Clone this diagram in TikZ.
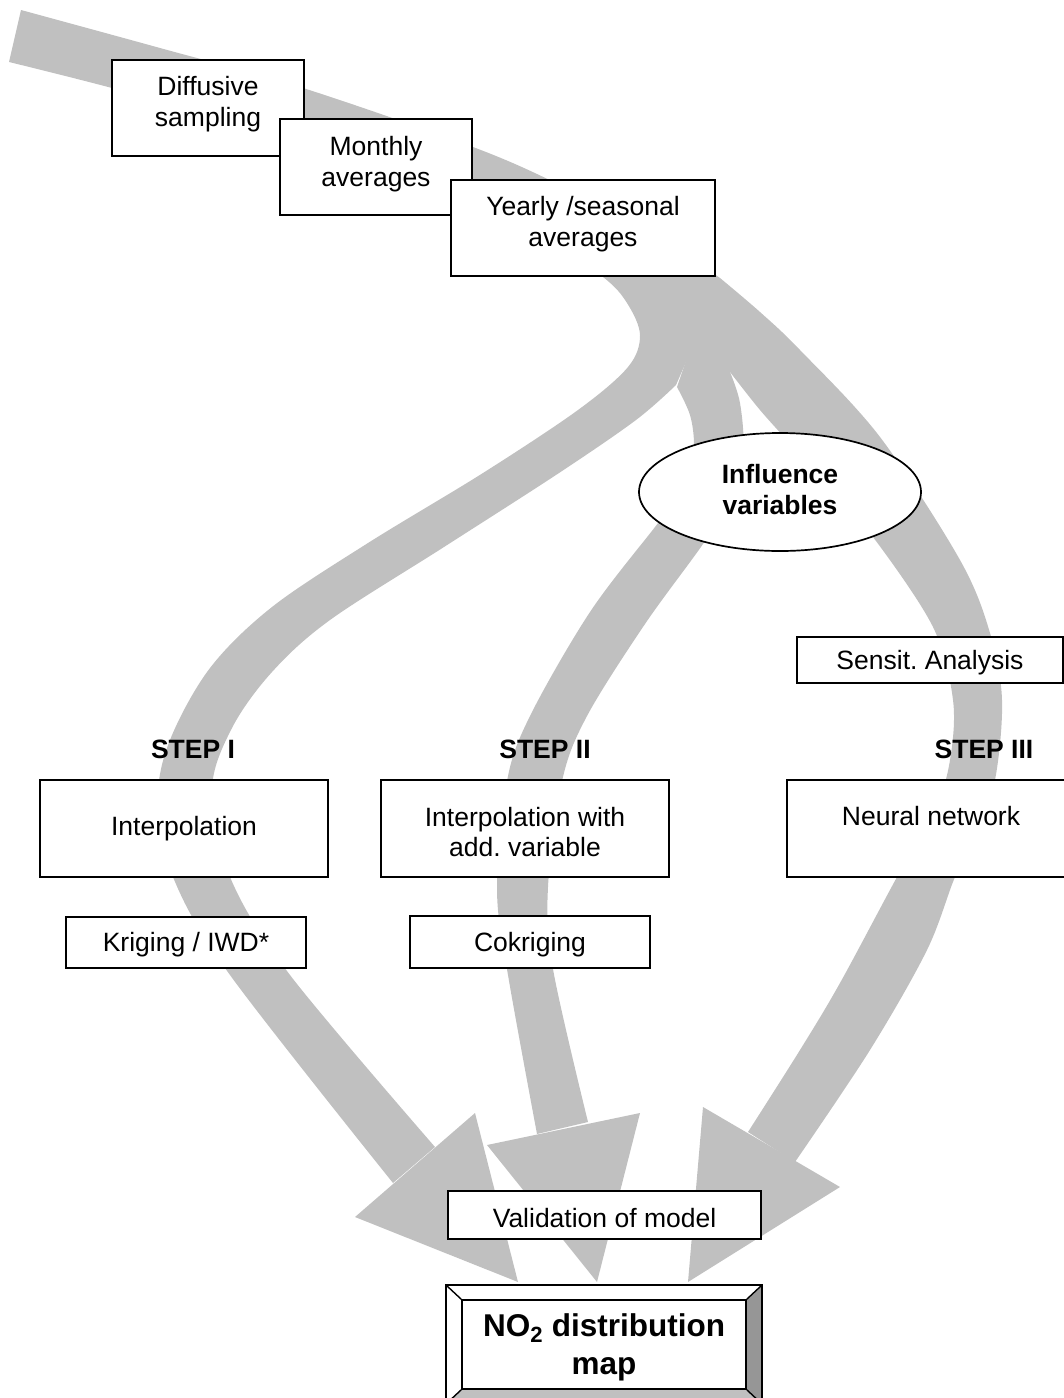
\documentclass[tikz,border=0pt]{standalone}
\usepackage{fontspec}
\setmainfont{Liberation Sans}
\usetikzlibrary{shapes.geometric}
\definecolor{bandgray}{HTML}{C0C0C0}
\definecolor{bevdark}{HTML}{969696}
\frenchspacing
\begin{document}
\begin{tikzpicture}[x=1pt,y=-1pt,
  band/.style={fill=bandgray,draw=none},
  box/.style={draw=black,line width=1.7pt,fill=white,rectangle,inner sep=0pt},
  txt/.style={font=\fontsize{26.5}{30.5}\selectfont,align=center,inner sep=0pt},
  btxt/.style={font=\fontsize{26.5}{31}\selectfont\bfseries,align=center,inner sep=0pt},
  maptxt/.style={font=\fontsize{31.5}{38}\selectfont\bfseries,align=center,inner sep=0pt},
]
\useasboundingbox (0,0) rectangle (1064,1398);

% ---- grey flow bands ----
% main band from the upper left, turning into the left branch
\fill[band] plot[smooth,tension=0.55] coordinates {(21,10) (160,48) (303,88) (473,147) (560,185) (650,232) (720,278)}
  -- (700,330) -- (676,385)
  -- plot[smooth,tension=0.55] coordinates {(676,385) (636,420) (559,473) (444,547) (330,620) (272,672) (232,728) (212,790) (230,877) (290,975) (435,1147)}
  -- (393,1183)
  -- plot[smooth,tension=0.55] coordinates {(393,1183) (230,975) (173,877) (158,800) (170,740) (210,668) (272,607) (368,543) (483,473) (578,410) (628,367) (640,335) (627,303) (603,277) (540,235) (470,201) (304,140) (112,88) (9,62)}
  -- cycle;
% middle branch through the influence variables
\fill[band] (715,315) -- (700,320) -- (677,387)
  -- plot[smooth,tension=0.55] coordinates {(677,387) (690,415) (694,445) (690,480) (672,505) (655,527) (590,612) (530,716) (507,781) (497,887) (507,969) (537,1134)}
  -- (588,1122)
  -- plot[smooth,tension=0.55] coordinates {(588,1122) (553,969) (548,887) (562,781) (587,716) (645,624) (703,544) (730,500) (743,450) (740,403) (730,372)}
  -- cycle;
% right branch through the sensitivity analysis
\fill[band] (690,300)
  -- plot[smooth,tension=0.55] coordinates {(720,278) (760,312) (800,350) (880,437) (960,560) (990,633) (1002,700) (995,780) (975,840) (955,877) (927,950) (870,1050) (795,1162)}
  -- (748,1132)
  -- plot[smooth,tension=0.55] coordinates {(748,1132) (800,1050) (840,983) (897,877) (935,810) (950,760) (953,700) (933,627) (873,537) (830,490) (793,447) (760,410) (730,372)}
  -- (695,335) -- cycle;
% arrow heads
\fill[band] (355,1217) -- (518,1282) -- (475,1113) -- cycle;
\fill[band] (487,1145) -- (597,1282) -- (640,1113) -- cycle;
\fill[band] (703,1107) -- (688,1282) -- (840,1187) -- cycle;

% ---- data preparation boxes ----
\node[box,minimum width=192pt,minimum height=96pt] (diff) at (208,108) {};
\node[txt] (diff-t) at (208,104) {Diffusive\\sampling};
\node[box,minimum width=192pt,minimum height=96pt] (month) at (376,167) {};
\node[txt] (month-t) at (376,164) {Monthly\\averages};
\node[box,minimum width=264pt,minimum height=96pt] (year) at (583,228) {};
\node[txt] (year-t) at (583,224) {Yearly /seasonal\\averages};

% ---- influence variables ----
\node[ellipse,draw=black,line width=1.7pt,fill=white,minimum width=282pt,minimum height=118pt,inner sep=0pt] (infl) at (780,492) {};
\node[btxt] (infl-t) at (780,490) {Influence\\variables};

\node[box,minimum width=266pt,minimum height=46pt] (sens) at (930,660) {};
\node[txt] (sens-t) at (930,663) {Sensit. Analysis};

% ---- steps ----
\node[btxt] (s1) at (193,749) {STEP I};
\node[btxt] (s2) at (545,749) {STEP II};
\node[btxt] (s3) at (984,749) {STEP III};

\node[box,minimum width=288pt,minimum height=97pt] (interp) at (184,828.5) {};
\node[txt] (interp-t) at (184,829) {Interpolation};
\node[box,minimum width=288pt,minimum height=97pt] (interpadd) at (525,828.5) {};
\node[txt] (interpadd-t) at (525,832) {Interpolation with\\add. variable};
\node[box,minimum width=288pt,minimum height=97pt] (neural) at (931,828.5) {};
\node[txt] (neural-t) at (931,816) {Neural network};

\node[box,minimum width=240pt,minimum height=51pt] (krig) at (186,942.5) {};
\node[txt] (krig-t) at (186,945) {Kriging / IWD*};
\node[box,minimum width=240pt,minimum height=52pt] (cokrig) at (530,942) {};
\node[txt] (cokrig-t) at (530,945) {Cokriging};

% ---- validation and result ----
\node[box,minimum width=313pt,minimum height=48pt] (valid) at (604.5,1215) {};
\node[txt] (valid-t) at (604.5,1218) {Validation of model};

% bevelled result frame
\fill[white] (446,1285) -- (762,1285) -- (746,1300) -- (462,1300) -- cycle;
\fill[white] (446,1285) -- (462,1300) -- (462,1389) -- (446,1404) -- cycle;
\fill[bevdark] (762,1285) -- (762,1404) -- (746,1389) -- (746,1300) -- cycle;
\fill[bandgray] (446,1404) -- (462,1389) -- (746,1389) -- (762,1404) -- cycle;
\node[rectangle,draw=black,line width=1.7pt,fill=white,minimum width=284pt,minimum height=89pt,inner sep=0pt] (map) at (604,1344.5) {};
\draw[line width=1.7pt] (446,1285) rectangle (762,1404);
\draw[line width=1.4pt] (446,1285) -- (map.north west) (762,1285) -- (map.north east)
  (446,1404) -- (map.south west) (762,1404) -- (map.south east);
\node[maptxt] (map-t) at (604,1347) {NO\textsubscript{2} distribution\\map};
\end{tikzpicture}
\end{document}
